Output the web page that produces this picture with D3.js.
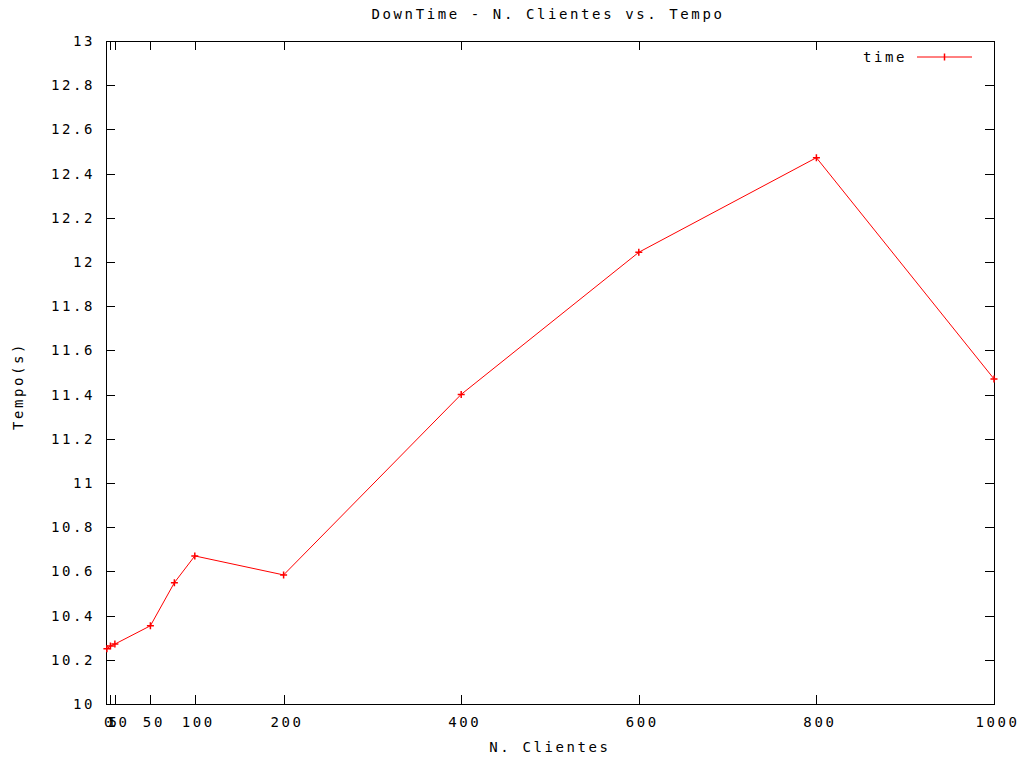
<!DOCTYPE html>
<html>
<head>
<meta charset="utf-8">
<script src="https://cdn.jsdelivr.net/npm/d3@7"></script>
<style>
    body { margin: 0; background: #fff; }
    text { font-family: "DejaVu Sans Mono", monospace; font-size: 14px; letter-spacing: 2.6px; fill: #000; }
</style>
</head>
<body>
<div id="grafico"></div>
<script>
// datos
var clientes = [1, 5, 10, 50, 77, 100, 200, 400, 600, 800, 1000];
var tiempos = [10.25, 10.262, 10.271, 10.354, 10.549, 10.67, 10.584, 11.401, 12.044, 12.472, 11.471];
var xTicks = [0, 5, 10, 50, 100, 200, 400, 600, 800, 1000];
var yTicks = [10, 10.2, 10.4, 10.6, 10.8, 11, 11.2, 11.4, 11.6, 11.8, 12, 12.2, 12.4, 12.6, 12.8, 13];

var w = 1022,
    h = 758;

var izq = 106, der = 994, arriba = 41, abajo = 704;
var rojo = "#ff0000";

var svg = d3.select("#grafico")
    .append("svg")
    .attr("width", w)
    .attr("height", h);

var x = d3.scaleLinear().domain([0, 1000]).range([izq, der]);
var y = d3.scaleLinear().domain([10, 13]).range([abajo, arriba]);

var fmt = function(d) { return String(+d.toFixed(1)); };

// ejes con marcas hacia dentro, como gnuplot
var ejeX = svg.append("g")
    .attr("transform", "translate(0," + abajo + ")")
    .call(d3.axisBottom(x).tickValues(xTicks).tickFormat(fmt).tickSizeInner(-9).tickSizeOuter(0).tickPadding(13));

var ejeXarriba = svg.append("g")
    .attr("transform", "translate(0," + arriba + ")")
    .call(d3.axisTop(x).tickValues(xTicks).tickFormat("").tickSizeInner(-9).tickSizeOuter(0));

var ejeY = svg.append("g")
    .attr("transform", "translate(" + izq + ",0)")
    .call(d3.axisLeft(y).tickValues(yTicks).tickFormat(fmt).tickSizeInner(-9).tickSizeOuter(0).tickPadding(11));

var ejeYder = svg.append("g")
    .attr("transform", "translate(" + der + ",0)")
    .call(d3.axisRight(y).tickValues(yTicks).tickFormat("").tickSizeInner(-9).tickSizeOuter(0));

svg.selectAll(".domain, .tick line")
    .attr("stroke", "#000")
    .attr("stroke-width", 1)
    .attr("shape-rendering", "crispEdges");

svg.selectAll(".tick text")
    .attr("font-family", null)
    .attr("font-size", null)
    .attr("fill", "#000");

ejeX.selectAll(".tick text").attr("dx", "3px");

// linea de datos
var puntos = clientes.map(function(c, i) { return {x: c, y: tiempos[i]}; });

var linea = d3.line()
    .x(function(d) { return x(d.x); })
    .y(function(d) { return y(d.y); });

svg.append("path")
    .datum(puntos)
    .attr("d", linea)
    .attr("fill", "none")
    .attr("stroke", rojo)
    .attr("stroke-width", 1);

//MARCAS +
var tam = 3.5;
svg.selectAll("path.punto")
    .data(puntos)
    .enter().append("path")
    .attr("class", "punto")
    .attr("d", function(d) {
        var px = x(d.x), py = y(d.y);
        return "M" + (px - tam) + "," + py + "H" + (px + tam) +
               "M" + px + "," + (py - tam) + "V" + (py + tam);
    })
    .attr("stroke", rojo)
    .attr("stroke-width", 1.5)
    .attr("fill", "none");

// titulos
svg.append("text")
    .attr("x", 548)
    .attr("y", 19)
    .attr("text-anchor", "middle")
    .text("DownTime - N. Clientes vs. Tempo");

svg.append("text")
    .attr("x", 550)
    .attr("y", 752)
    .attr("text-anchor", "middle")
    .text("N. Clientes");

svg.append("text")
    .attr("transform", "translate(23,386) rotate(-90)")
    .attr("text-anchor", "middle")
    .text("Tempo(s)");

// leyenda
svg.append("text")
    .attr("x", 863)
    .attr("y", 62)
    .text("time");

svg.append("line")
    .attr("x1", 917).attr("x2", 972)
    .attr("y1", 57).attr("y2", 57)
    .attr("stroke", rojo)
    .attr("stroke-width", 1);

svg.append("path")
    .attr("d", "M" + 944.5 + "," + (57 - tam) + "V" + (57 + tam))
    .attr("stroke", rojo)
    .attr("stroke-width", 1.5);
</script>
</body>
</html>
